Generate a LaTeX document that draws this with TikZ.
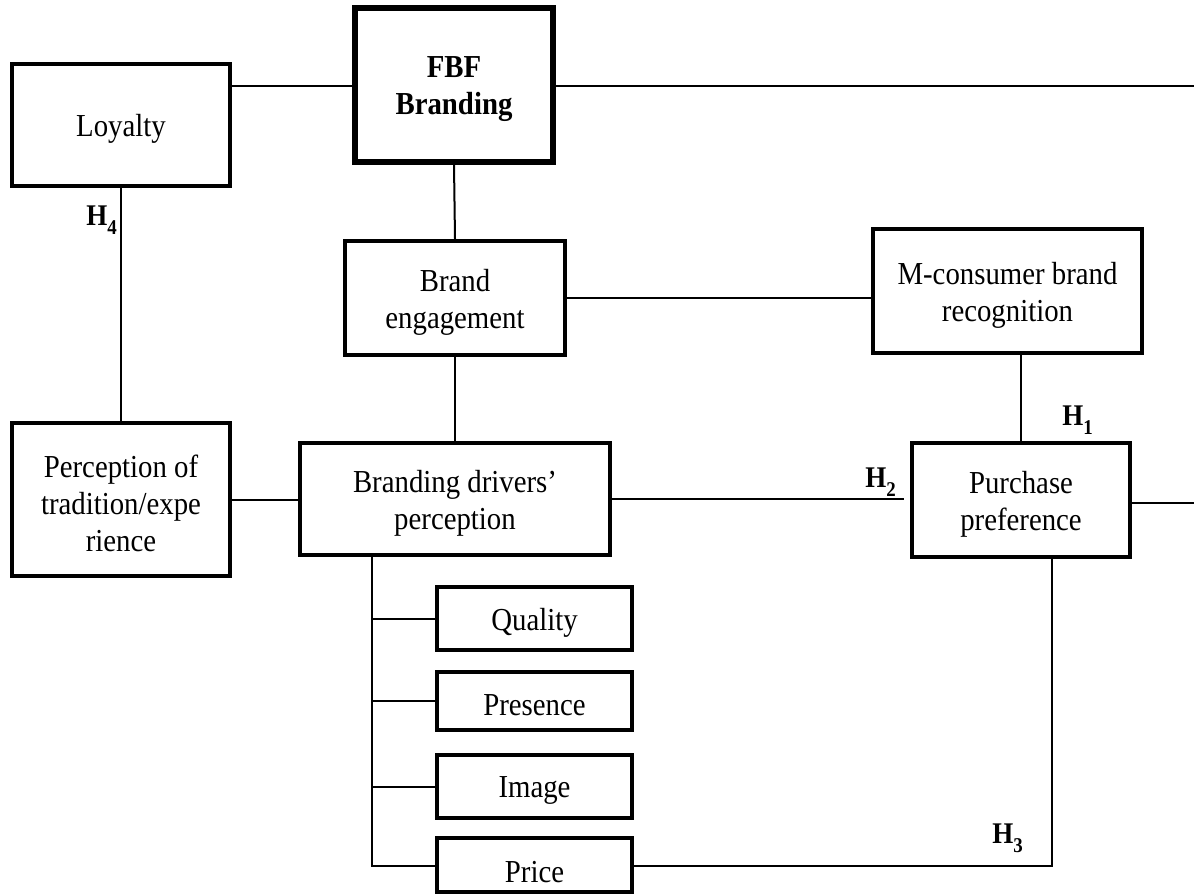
\documentclass[tikz,border=0pt]{standalone}
\usepackage{fontspec}
\setmainfont{Liberation Serif}[FakeStretch=0.9]
\newcommand{\hsub}[1]{H\raisebox{-0.3em}{\fontsize{10.5}{10.5}\selectfont #1}}
\begin{document}
\begin{tikzpicture}[x=0.5pt,y=-0.5pt,
  box/.style={draw=black,line width=2pt,inner sep=0pt},
  txt/.style={align=center,inner sep=0pt,yshift=-2pt,
    font=\fontsize{16}{18.5}\selectfont},
  link/.style={draw=black,line width=1pt},
  hyp/.style={font=\fontsize{15}{17}\selectfont\bfseries,inner sep=0pt,anchor=base west}]
\useasboundingbox (0,0) rectangle (1194,894);
\fill[white] (0,0) rectangle (1194,894);

% main constructs
\node[box,minimum width=109pt,minimum height=61pt,
  label={[txt]center:Loyalty}] (loyalty) at (121,125) {};
\node[box,line width=2.6pt,minimum width=99pt,minimum height=77pt,
  label={[txt,font=\fontsize{16}{18.5}\selectfont\bfseries]center:{FBF\\Branding}}] (fbf) at (454,85) {};
\node[box,minimum width=110pt,minimum height=57pt,
  label={[txt]center:{Brand\\engagement}}] (engage) at (455,298) {};
\node[box,minimum width=134.5pt,minimum height=62pt,
  label={[txt]center:{M-consumer brand\\recognition}}] (mcons) at (1007.5,291) {};
\node[box,minimum width=109pt,minimum height=57pt,
  label={[txt]center:{Purchase\\preference}}] (purchase) at (1021,500) {};
\node[box,minimum width=109pt,minimum height=76.5pt,
  label={[txt]center:{Perception of\\tradition/expe\\rience}}] (tradition) at (121,499.5) {};
\node[box,minimum width=155pt,minimum height=56pt,
  label={[txt]center:{Branding drivers’\\perception}}] (drivers) at (455,499) {};

% branding drivers
\node[box,minimum width=97.5pt,minimum height=31.5pt,
  label={[txt]center:Quality}] (quality) at (534.5,618.5) {};
\node[box,minimum width=97.5pt,minimum height=29pt,
  label={[txt]center:Presence}] (presence) at (534.5,701) {};
\node[box,minimum width=97.5pt,minimum height=31.5pt,
  label={[txt]center:Image}] (image) at (534.5,786.5) {};
\node[box,minimum width=97.5pt,minimum height=27pt,
  label={[txt,yshift=-1.5pt]center:Price}] (price) at (534.5,865) {};

% free ends and corners
\coordinate (fbfout) at (1194,86);
\coordinate (purout) at (1194,503);
\coordinate (trunk) at (372,866);
\coordinate (h3corner) at (1052,866);

% connectors
\draw[link] (loyalty.east |- fbfout) -- (fbf.west |- fbfout);
\draw[link] (fbf.east |- fbfout) -- (fbfout);
\draw[link] (fbf.south) -- (engage.north);
\draw[link] (engage.east) -- (mcons.west |- engage.east);
\draw[link] (engage.south) -- (drivers.north);
\draw[link] (loyalty.south) -- (tradition.north);
\draw[link] (tradition.east) -- (drivers.west |- tradition.east);
\draw[link] (drivers.east) -- ([xshift=-3pt]purchase.west |- drivers.east);
\draw[link] (mcons.south -| purchase.north) -- (purchase.north);
\draw[link] (purchase.east |- purout) -- (purout);
\draw[link] (drivers.south -| trunk) -- (trunk) -- (price.west |- trunk);
\draw[link] (quality.west -| trunk) -- (quality.west);
\draw[link] (presence.west -| trunk) -- (presence.west);
\draw[link] (image.west -| trunk) -- (image.west);
\draw[link] (price.east |- h3corner) -- (h3corner) -- (h3corner |- purchase.south);

% hypothesis labels
\node[hyp] (h1) at (1062,425) {\hsub{1}};
\node[hyp] (h2) at (865,487) {\hsub{2}};
\node[hyp] (h3) at (992,843) {\hsub{3}};
\node[hyp] (h4) at (86,225) {\hsub{4}};
\end{tikzpicture}
\end{document}
